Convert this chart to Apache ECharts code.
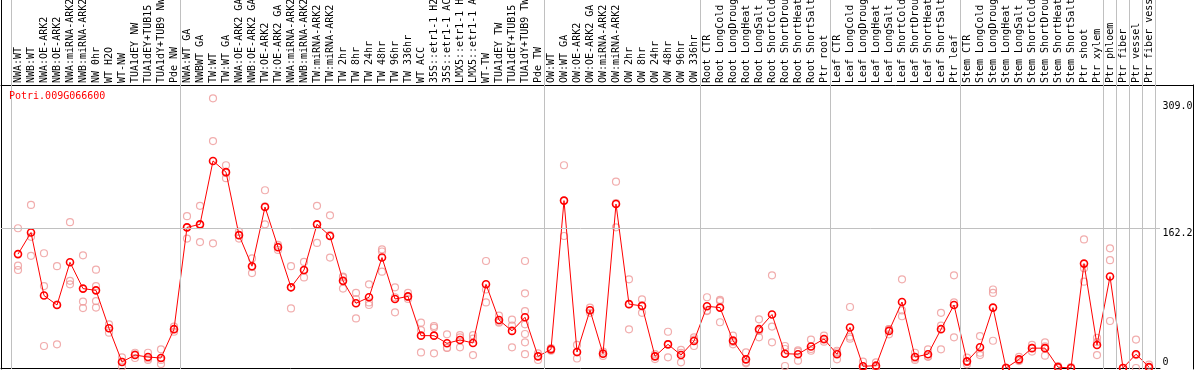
<!DOCTYPE html>
<html><head><meta charset="utf-8">
<script src="https://cdn.jsdelivr.net/npm/echarts@6/dist/echarts.min.js"></script>
<style>html,body{margin:0;padding:0;background:#fff}#c{width:1194px;height:370px}</style>
</head><body><div id="c"></div>
<script>
const geneName = "Potri.009G066600";
const categories = [
"NWA:WT","NWB:WT","NWA:OE-ARK2","NWB:OE-ARK2","NWA:miRNA-ARK2","NWB:miRNA-ARK2","NW 0hr","WT H2O","WT-NW","TUA1dEY NW","TUA1dEY+TUB15 NW","TUA1dY+TUB9 NW","Pde NW",
"NWA:WT GA","NWBWT GA","TW:WT","TW:WT GA","NWA:OE-ARK2 GA","NWB:OE-ARK2 GA","TW:OE-ARK2","TW:OE-ARK2 GA","NWA:miRNA-ARK2 GA","NWB:miRNA-ARK2 GA","TW:miRNA-ARK2","TW:miRNA-ARK2 GA","TW 2hr","TW 8hr","TW 24hr","TW 48hr","TW 96hr","TW 336hr","WT ACC","35S::etr1-1 H2O","35S::etr1-1 ACC","LMX5::etr1-1 H2O","LMX5::etr1-1 ACC","WT-TW","TUA1dEY TW","TUA1dEY+TUB15 TW","TUA1dY+TUB9 TW","Pde TW",
"OW:WT","OW:WT GA","OW:OE-ARK2","OW:OE-ARK2 GA","OW:miRNA-ARK2","OW:miRNA-ARK2 GA","OW 2hr","OW 8hr","OW 24hr","OW 48hr","OW 96hr","OW 336hr",
"Root CTR","Root LongCold","Root LongDrought","Root LongHeat","Root LongSalt","Root ShortCold","Root ShortDrought","Root ShortHeat","Root ShortSalt","Ptr root",
"Leaf CTR","Leaf LongCold","Leaf LongDrought","Leaf LongHeat","Leaf LongSalt","Leaf ShortCold","Leaf ShortDrought","Leaf ShortHeat","Leaf ShortSalt","Ptr leaf",
"Stem CTR","Stem LongCold","Stem LongDrought","Stem LongHeat","Stem LongSalt","Stem ShortCold","Stem ShortDrought","Stem ShortHeat","Stem ShortSalt","Ptr shoot","Ptr xylem",
"Ptr phloem","Ptr fiber","Ptr vessel","Ptr fiber vessel"
];
const means = [
132,157,84,73,122.5,92,90,46,7,15,12.7,11.6,45,
163,166.5,240,227,154,118,186.6,140,93.5,113.6,166.5,153,101,75,82,128,80,83,37.5,37.5,28.6,32.5,29,97,55.6,43,58.8,13.5,
21.6,194,18.5,67,16.6,190,74,72,13.5,27.4,15,31.3,
71.5,70,31.7,10,45,62,16.6,16,25,33.6,
16,47,2,2.7,43,76.5,12.7,16,45,73,
7.7,24,70,0,10,23,23,1,0,121,26.7,
106,0,16,1
];
const replicates = [
[162,118.6,113.6],[189,130,152],[133,95,25.5],[118,27.4,73.6],[169,101,97],[130.6,77,69.5],[114,95,77.6,70],[50.6,46,41],[12.4,7,1.5],[17.7,11.6,15.7],[17.7,9.3,11],[21.6,9.3,4.6],[48,45,42],
[150,176,163],[188,146,165.5],[312.5,263,144.5],[235,220,226],[150,154,158],[127,110,117],[206,166.5,187.3],[142.6,136.8,140.6],[118,69,93.5],[123,105,113],[145,188,166.5],[128,177,154],[106,92,105],[87,57.5,80],[97,73,76],[137.5,111.6,135],[93.5,64.5,82],[87,82,80],[52.5,44,18],[48.7,17,46.8],[39,23.5,23.3],[38,24,35.5],[38,15,34],[124,76,91],[60.6,52.5,53.7],[56,24,49],[124,86.6,66,50.6,39.4,29.8,16],[17,14,9.3],
[20,22,23],[235,194,153],[26.7,11,18],[64,67,70],[19,14,17],[216,163,191],[102.8,44.8,74],[79.6,64,72.4],[16,14,10.4],[42,12.4,27.8],[20.9,6.6,17.5],[35.6,25.5,32.8],
[82,66,66.5],[77.6,53,79],[37.5,27.4,30.2],[18,5.4,6.6],[56.4,35.6,43],[107.4,48,29.8],[25.5,2.3,22],[19,8.5,20.5],[33,20,22],[37.5,30.5,32.8],
[20,10,18],[70.7,36.3,34],[7.3,0,0],[6.6,1,0.5],[39,45,45],[102.8,60,66.7],[17.7,9.3,11],[21.6,13,13.4],[64,49,21.6],[107.4,76,35.6],
[12,4.3,6.8],[37,17.7,15],[91,87,31.6],[0.5,0,0],[13,9,8],[26.7,19,23.3],[29.8,14.3,25],[2.3,0.5,0],[1,0,0],[149,115.5,100],[35,15,30],
[138.7,125,54.5],[0,0,0],[33,0,15],[4,0,0]
];
const groupBoundaries = [0,13,41,53,63,73,84,85,86,87,88];
const yTickValues = [0,162.2,309];
const gridLineValue = 162.2;
const yMax = 328;

const FONT = "'DejaVu Sans Mono', monospace";
const scatterData = [];
replicates.forEach((arr, i) => arr.forEach(v => scatterData.push([i, v])));

const G = { outerBoundsMode: 'none', containLabel: false };
const hiddenAxis = (type, grid, extra) => Object.assign({ type: type, gridIndex: grid, show: false }, extra || {});
const chart = echarts.init(document.getElementById('c'), null, {renderer:'canvas'});
chart.setOption({
  animation: false,
  backgroundColor: '#fff',
  title: { text: geneName, left: 9, top: 91, padding: 0,
    textStyle: { color: '#ff0000', fontFamily: FONT, fontSize: 10, fontWeight: 'normal' } },
  grid: [
    Object.assign({ left: 11.5, width: 1144, top: 85, height: 283 }, G),   // 0 data
    Object.assign({ left: 1, right: 1, top: 85, height: 284 }, G),          // 1 frame
    Object.assign({ left: 11.5, width: 1144, top: 0, height: 369 }, G),     // 2 separators
    Object.assign({ left: 1, width: 10, top: 0, height: 85 }, G),           // 3 header left border
    Object.assign({ left: 1, width: 1159, top: 85, height: 283 }, G)        // 4 horizontal grid line + baseline
  ],
  xAxis: [
    { type: 'category', gridIndex: 0, position: 'top', data: categories, boundaryGap: true,
      axisLine: { show: false, onZero: false }, axisTick: { show: false }, splitLine: { show: false },
      axisLabel: { interval: 0, rotate: -90, align: 'left', verticalAlign: 'middle', margin: 2, hideOverlap: false,
        color: '#000', fontFamily: FONT, fontSize: 10 } },
    { type: 'value', gridIndex: 4, position: 'bottom', min: 0, max: 1,
      axisLine: { show: true, onZero: false, lineStyle: { color: '#000', width: 1 } }, axisTick: { show: false },
      axisLabel: { show: false }, splitLine: { show: false } },
    { type: 'value', gridIndex: 1, position: 'top', min: 0, max: 1,
      axisLine: { show: true, onZero: false, lineStyle: { color: '#000', width: 1 } }, axisTick: { show: false },
      axisLabel: { show: false }, splitLine: { show: false } },
    hiddenAxis('value', 2, { min: 0, max: 88 }),
    hiddenAxis('value', 3, { min: 0, max: 1 })
  ],
  yAxis: [
    { type: 'value', gridIndex: 0, position: 'right', min: 0, max: yMax,
      axisLine: { show: false, onZero: false }, axisTick: { show: false }, splitLine: { show: false },
      axisLabel: { show: true, customValues: yTickValues, margin: 7, color: '#000', fontFamily: FONT, fontSize: 10,
        formatter: v => v === 0 ? '{z|0}' : '{t|' + v.toFixed(1) + '}',
        rich: { t: { padding: [10,0,0,0], fontFamily: FONT, fontSize: 10, color: '#000' },
                z: { padding: [0,0,12,0], fontFamily: FONT, fontSize: 10, color: '#000' } } } },
    { type: 'value', gridIndex: 1, position: 'left', min: 0, max: 1,
      axisLine: { show: true, onZero: false, lineStyle: { color: '#000' } }, axisTick: { show: false },
      axisLabel: { show: false }, splitLine: { show: false } },
    { type: 'value', gridIndex: 1, position: 'right', min: 0, max: 1,
      axisLine: { show: true, onZero: false, lineStyle: { color: '#000' } }, axisTick: { show: false },
      axisLabel: { show: false }, splitLine: { show: false } },
    hiddenAxis('value', 2, { min: 0, max: 1 }),
    { type: 'value', gridIndex: 3, position: 'left', min: 0, max: 1,
      axisLine: { show: true, onZero: false, lineStyle: { color: '#000' } }, axisTick: { show: false },
      axisLabel: { show: false }, splitLine: { show: false } },
    { type: 'value', gridIndex: 4, min: 0, max: yMax, axisLine: { show: false }, axisTick: { show: false },
      axisLabel: { show: false }, splitLine: { show: false } }
  ],
  series: [
    { type: 'line', xAxisIndex: 3, yAxisIndex: 3, data: [], silent: true,
      markLine: { silent: true, symbol: 'none', label: { show: false }, animation: false,
        lineStyle: { color: '#c0c0c0', width: 1, type: 'solid' },
        data: groupBoundaries.map(b => ({ xAxis: b })) } },
    { type: 'line', xAxisIndex: 1, yAxisIndex: 5, data: [], silent: true,
      markLine: { silent: true, symbol: 'none', label: { show: false }, animation: false,
        lineStyle: { color: '#c0c0c0', width: 1, type: 'solid' },
        data: [{ yAxis: gridLineValue }] } },
    { type: 'scatter', xAxisIndex: 0, yAxisIndex: 0, data: scatterData, symbol: 'circle', symbolSize: 7,
      itemStyle: { color: 'rgba(0,0,0,0)', borderColor: '#ee9999', borderWidth: 1.2 }, z: 3 },
    { type: 'line', xAxisIndex: 0, yAxisIndex: 0, data: means, symbol: 'circle', symbolSize: 7,
      showAllSymbol: true,
      lineStyle: { color: '#ff0000', width: 1 },
      itemStyle: { color: 'rgba(0,0,0,0)', borderColor: '#ff0000', borderWidth: 1.6 }, z: 4 }
  ]
});
</script></body></html>
